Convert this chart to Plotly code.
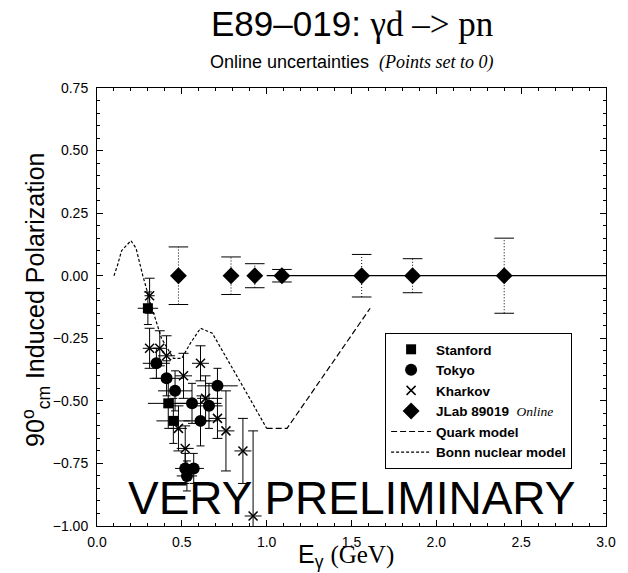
import plotly.graph_objects as go

# ---------------- data ----------------
stanford_e = [0.30, 0.42, 0.45]
stanford_p = [-0.13, -0.51, -0.58]
stanford_de = [0.06, 0.12, 0.10]
stanford_dp = [0.065, 0.10, 0.09]

tokyo_e = [0.35, 0.41, 0.46, 0.56, 0.61, 0.66, 0.71, 0.52, 0.57, 0.53]
tokyo_p = [-0.35, -0.41, -0.46, -0.51, -0.58, -0.52, -0.44, -0.77, -0.77, -0.80]
tokyo_de = [0.08, 0.10, 0.10, 0.10, 0.10, 0.08, 0.12, 0.06, 0.06, 0.06]
tokyo_dp = [0.06, 0.07, 0.08, 0.08, 0.10, 0.09, 0.07, 0.06, 0.06, 0.06]

kharkov_e = [0.31, 0.31, 0.37, 0.41, 0.51, 0.61, 0.64, 0.71, 0.76, 0.52, 0.86, 0.92, 0.48]
kharkov_p = [-0.08, -0.29, -0.29, -0.32, -0.40, -0.35, -0.49, -0.57, -0.62, -0.69, -0.70, -0.96, -0.61]
kharkov_de = [0.03, 0.04, 0.04, 0.05, 0.05, 0.05, 0.05, 0.05, 0.05, 0.05, 0.05, 0.05, 0.05]
kharkov_dp = [0.07, 0.08, 0.07, 0.08, 0.09, 0.07, 0.09, 0.08, 0.16, 0.09, 0.13, 0.34, 0.09]

jlab_e = [0.48, 0.79, 0.93, 1.09, 1.56, 1.86, 2.40]
jlab_p = [0.0, 0.0, 0.0, 0.0, 0.0, 0.0, 0.0]
jlab_dp = [0.115, 0.075, 0.048, 0.025, 0.085, 0.068, 0.15]

bonn_e = [0.10, 0.12, 0.145, 0.17, 0.20, 0.23, 0.25, 0.27, 0.32, 0.38, 0.45,
          0.50, 0.55, 0.61, 0.68, 0.80, 0.90, 1.00]
bonn_p = [0.0, 0.04, 0.10, 0.12, 0.14, 0.11, 0.056, 0.0, -0.12, -0.25, -0.33,
          -0.33, -0.27, -0.21, -0.23, -0.37, -0.49, -0.61]

quark_e = [1.00, 1.12, 1.61]
quark_p = [-0.61, -0.61, -0.13]

pqcd_e = [1.0, 3.0]
pqcd_p = [0.0, 0.0]

x_ticks = [0.0, 0.5, 1.0, 1.5, 2.0, 2.5, 3.0]
y_ticks = [-1.00, -0.75, -0.50, -0.25, 0.00, 0.25, 0.50, 0.75]

SANS = "Liberation Sans"
SERIF = "Liberation Serif"

fig = go.Figure()

# models
fig.add_trace(go.Scatter(x=bonn_e, y=bonn_p, mode="lines", name="Bonn nuclear model",
                         line=dict(color="black", width=1.2, dash="3px,2px"), legendrank=6))
fig.add_trace(go.Scatter(x=quark_e, y=quark_p, mode="lines", name="Quark model",
                         line=dict(color="black", width=1.2, dash="6px,3px"), legendrank=5))
fig.add_trace(go.Scatter(x=pqcd_e, y=pqcd_p, mode="lines", showlegend=False,
                         line=dict(color="black", width=1.3)))

# JLab dotted error bars built from data arrays
eb_x, eb_y = [], []
for e, p, d in zip(jlab_e, jlab_p, jlab_dp):
    eb_x += [e, e, None]
    eb_y += [p - d, p + d, None]
fig.add_trace(go.Scatter(x=eb_x, y=eb_y, mode="lines", showlegend=False,
                         line=dict(color="black", width=1, dash="1px,2px")))
cap_x = jlab_e + jlab_e
cap_y = [p + d for p, d in zip(jlab_p, jlab_dp)] + [p - d for p, d in zip(jlab_p, jlab_dp)]
fig.add_trace(go.Scatter(x=cap_x, y=cap_y, mode="markers", showlegend=False,
                         marker=dict(symbol="line-ew-open", size=14, color="black",
                                     line=dict(color="black", width=1))))

err_common = dict(color="black", thickness=1)
fig.add_trace(go.Scatter(x=kharkov_e, y=kharkov_p, mode="markers", name="Kharkov",
                         error_x=dict(type="data", array=kharkov_de, width=0, **err_common),
                         error_y=dict(type="data", array=kharkov_dp, width=5, **err_common),
                         marker=dict(symbol="x-thin-open", size=9, color="black",
                                     line=dict(color="black", width=1.5)), legendrank=3))
fig.add_trace(go.Scatter(x=tokyo_e, y=tokyo_p, mode="markers", name="Tokyo",
                         error_x=dict(type="data", array=tokyo_de, width=0, **err_common),
                         error_y=dict(type="data", array=tokyo_dp, width=4, **err_common),
                         marker=dict(symbol="circle", size=12, color="black"), legendrank=2))
fig.add_trace(go.Scatter(x=stanford_e, y=stanford_p, mode="markers", name="Stanford",
                         error_x=dict(type="data", array=stanford_de, width=0, **err_common),
                         error_y=dict(type="data", array=stanford_dp, width=4, **err_common),
                         marker=dict(symbol="square", size=10, color="black"), legendrank=1))
fig.add_trace(go.Scatter(x=jlab_e, y=jlab_p, mode="markers",
                         name="JLab 89019  <span style='font-family:Liberation Serif;font-weight:normal'><i>Online</i></span>",
                         marker=dict(symbol="diamond", size=13, color="black"), legendrank=4))

axis_common = dict(showgrid=False, zeroline=False, showline=True, linecolor="black",
                   linewidth=1, mirror="ticks", ticks="inside", ticklen=6, tickwidth=1,
                   tickcolor="black", tickfont=dict(family=SANS, size=14, color="black"))
fig.update_xaxes(range=[0, 3], tickvals=x_ticks, tickformat=".1f", ticklabelstandoff=3,
                 minor=dict(dtick=0.1, tick0=0, ticks="inside", ticklen=3, tickcolor="black"),
                 **axis_common)
fig.update_yaxes(range=[-1, 0.75], tickvals=y_ticks, tickformat=".2f", ticklabelstandoff=5,
                 minor=dict(dtick=0.05, tick0=0, ticks="inside", ticklen=3, tickcolor="black"),
                 **axis_common)

fig.update_layout(
    width=628, height=573,
    margin=dict(l=97, r=13, t=88, b=47),
    paper_bgcolor="white", plot_bgcolor="white",
    showlegend=True,
    legend=dict(x=0.566, y=0.4406, xanchor="left", yanchor="top",
                bgcolor="white", bordercolor="black", borderwidth=1,
                font=dict(family=SANS, size=13.5, color="black", weight="bold"),
                tracegroupgap=0, itemwidth=40),
    annotations=[
        dict(text="E89\u2013019: <span style='font-family:Liberation Serif'>\u03b3d \u2013> pn</span>",
             xref="paper", yref="paper", x=0.5, y=1.146, xanchor="center", yanchor="middle",
             showarrow=False, font=dict(family=SANS, size=35, color="black")),
        dict(text="Online uncertainties  <span style='font-family:Liberation Serif'><i>(Points set to 0)</i></span>",
             xref="paper", yref="paper", x=0.5, y=1.059, xanchor="center", yanchor="middle",
             showarrow=False, font=dict(family=SANS, size=18, color="black")),
        dict(text="90<sup>o</sup><sub>cm</sub> Induced Polarization",
             xref="paper", yref="paper", x=-0.12, y=0.516, xanchor="center", yanchor="middle",
             textangle=-90, showarrow=False, font=dict(family=SANS, size=25, color="black")),
        dict(text="E<sub>\u03b3</sub> <span style='font-family:Liberation Serif'>(GeV)</span>",
             xref="paper", yref="paper", x=0.49, y=-0.068, xanchor="center", yanchor="middle",
             showarrow=False, font=dict(family=SANS, size=25, color="black")),
        dict(text="VERY PRELIMINARY",
             xref="paper", yref="paper", x=0.5, y=0.064, xanchor="center", yanchor="middle",
             showarrow=False, font=dict(family=SANS, size=46, color="black")),
    ],
)

# remove the browser's default 8px page margin so the figure fills the window exactly
fig.write_html("out.html", config={"displayModeBar": False},
               post_script="document.body.style.margin='0px';")
